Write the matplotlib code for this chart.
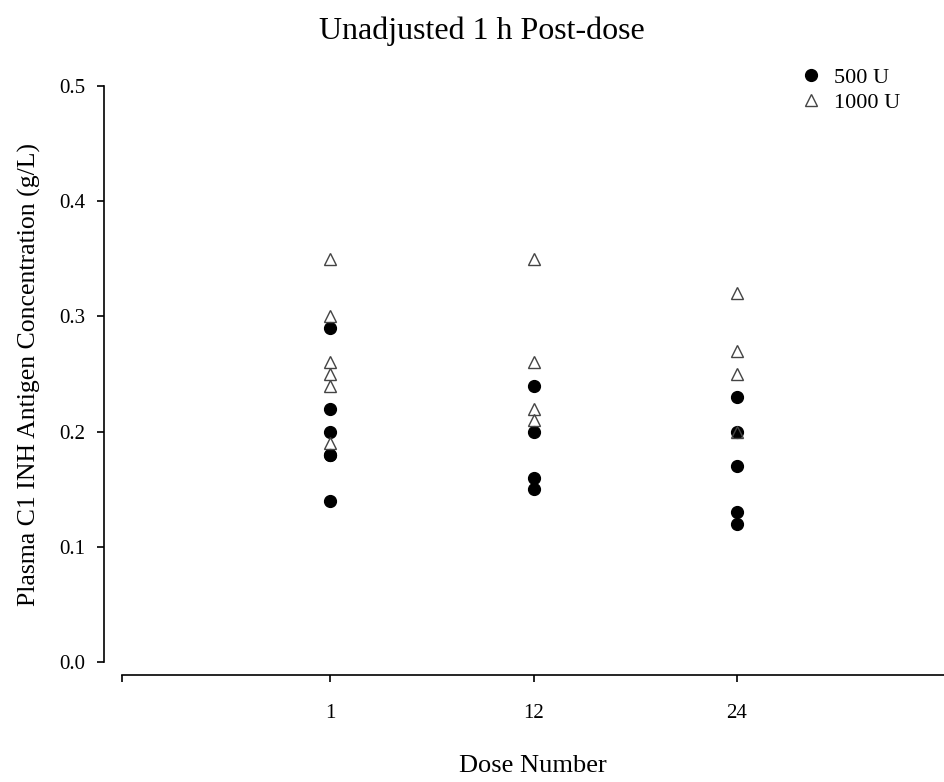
import numpy as np
import matplotlib.pyplot as plt

plt.rcParams['font.family'] = ['Liberation Serif', 'DejaVu Serif']

dose_labels = ['1', '12', '24']
dose_pos = [1, 2, 3]

# 500 U values per dose
u500_d1 = [0.29, 0.22, 0.20, 0.18, 0.18, 0.14]
u500_d12 = [0.24, 0.20, 0.16, 0.15]
u500_d24 = [0.23, 0.20, 0.17, 0.13, 0.12]

# 1000 U values per dose
u1000_d1 = [0.35, 0.30, 0.26, 0.25, 0.24, 0.19]
u1000_d12 = [0.35, 0.26, 0.22, 0.21]
u1000_d24 = [0.32, 0.27, 0.25, 0.20]

u500 = [u500_d1, u500_d12, u500_d24]
u1000 = [u1000_d1, u1000_d12, u1000_d24]

fig = plt.figure(figsize=(9.44, 7.82), dpi=100)
ax = fig.add_axes([122/944, 120/782, 822/944, 576/782])

for p, vals in zip(dose_pos, u500):
    ax.plot([p]*len(vals), vals, 'o', color='black', ms=8.5, zorder=2,
            label='500 U' if p == 1 else None)
for p, vals in zip(dose_pos, u1000):
    ax.plot([p]*len(vals), vals, '^', mfc='none', mec='#444444', mew=1.0, ms=9,
            zorder=3, label='1000 U' if p == 1 else None)

ax.set_xlim(-0.022, 4.017)
ax.set_ylim(0, 0.5)
ax.set_yticks([0.0, 0.1, 0.2, 0.3, 0.4, 0.5])
ax.set_yticklabels(['0.0', '0.1', '0.2', '0.3', '0.4', '0.5'])
ax.set_xticks([-0.022] + dose_pos)
ax.set_xticklabels([''] + dose_labels)

for s in ['top', 'right']:
    ax.spines[s].set_visible(False)
ax.spines['left'].set_position(('outward', 13))
ax.spines['bottom'].set_position(('outward', 9.4))
ax.spines['left'].set_linewidth(1.2)
ax.spines['bottom'].set_linewidth(1.2)
ax.tick_params(direction='out', length=5, width=1.2, labelsize=15)
ax.tick_params(axis='y', pad=8.5)
ax.tick_params(axis='x', pad=16)

ax.set_ylabel('Plasma C1 INH Antigen Concentration (g/L)', fontsize=18.5, labelpad=13)
ax.set_xlabel('Dose Number', fontsize=19, labelpad=23)
fig.text(0.51, 0.960, 'Unadjusted 1 h Post-dose', ha='center', va='center', fontsize=23)

ax.legend(loc='upper left', bbox_to_anchor=(800/944, 0.9135), bbox_transform=fig.transFigure,
          frameon=False, fontsize=16, borderpad=0, borderaxespad=0,
          handletextpad=0.55, labelspacing=0.2, handlelength=1.0)

fig.savefig('out.png', dpi=100)
